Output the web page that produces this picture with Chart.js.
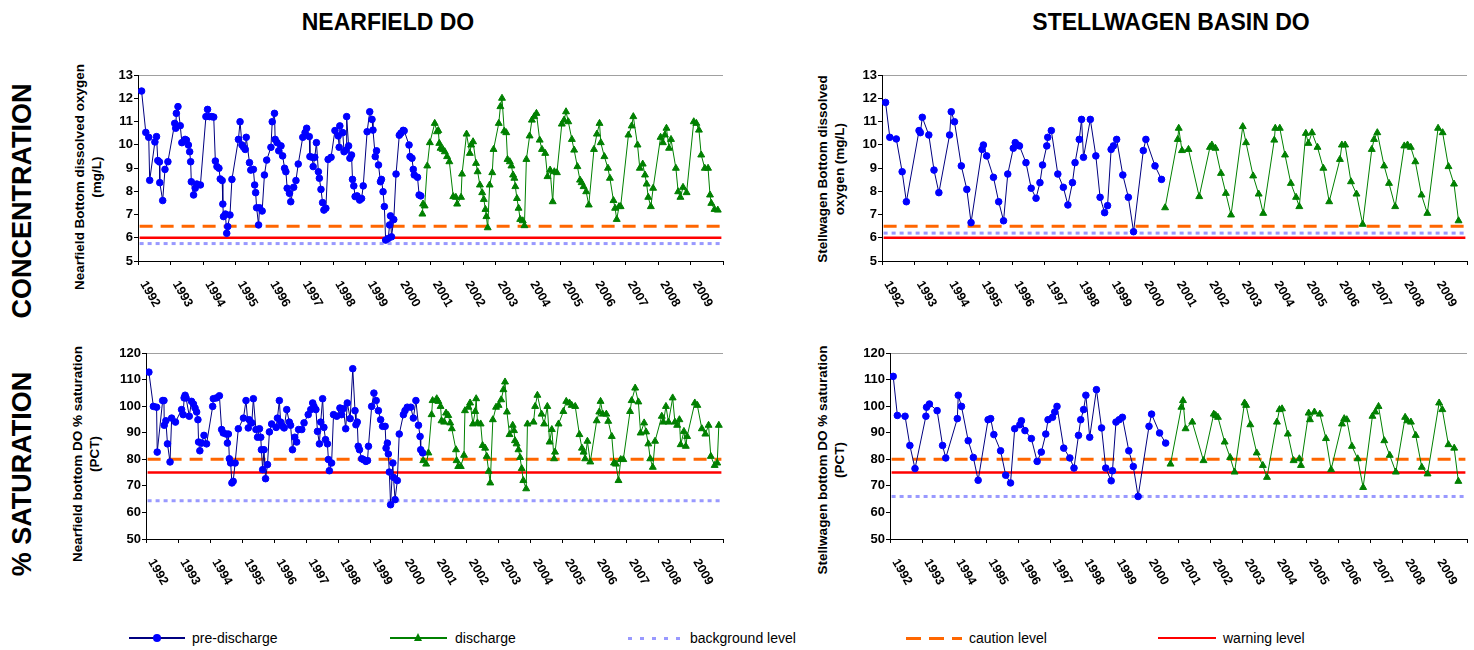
<!DOCTYPE HTML>
<html>

<head>
    <meta charset="utf-8">
    <script src="https://cdn.jsdelivr.net/npm/chart.js@4.4.1/dist/chart.umd.min.js"></script>
    <style>
        html, body {
            margin: 0;
            padding: 0;
            background: #fff;
            font-family: "Liberation Sans", Arial, sans-serif;
        }

        #page {
            position: relative;
            width: 1474px;
            height: 650px;
            overflow: hidden;
        }

        canvas {
            position: absolute;
        }

        .title {
            position: absolute;
            font-weight: bold;
            font-size: 23px;
            transform: translate(-50%, -50%);
            white-space: nowrap;
        }

        .side {
            position: absolute;
            font-weight: bold;
            font-size: 27px;
            transform: translate(-50%, -50%) rotate(-90deg);
            white-space: nowrap;
        }

        .ytitle {
            position: absolute;
            font-weight: bold;
            font-size: 13.5px;
            line-height: 17px;
            text-align: center;
            transform: translate(-50%, -50%) rotate(-90deg);
            white-space: nowrap;
        }

        .lg {
            position: absolute;
            top: 638px;
        }

        .lgline {
            position: absolute;
            height: 3px;
            margin-top: -1.5px;
        }

        .lgtext {
            position: absolute;
            font-size: 14px;
            transform: translateY(-50%);
            white-space: nowrap;
        }
    </style>
</head>

<body>
    <div id="page">
        <div class="title" style="left:388px;top:22px;">NEARFIELD DO</div>
        <div class="title" style="left:1171px;top:22px;">STELLWAGEN BASIN DO</div>
        <div class="side" style="left:22px;top:201px;">CONCENTRATION</div>
        <div class="side" style="left:22px;top:474px;">% SATURATION</div>

        <div class="ytitle" style="left:88px;top:177px;">Nearfield Bottom dissolved oxygen<br>(mg/L)</div>
        <div class="ytitle" style="left:831px;top:169px;">Stellwagen Bottom dissolved<br>oxygen (mg/L)</div>
        <div class="ytitle" style="left:86px;top:454px;">Nearfield bottom DO % saturation<br>(PCT)</div>
        <div class="ytitle" style="left:831px;top:460px;">Stellwagen bottom DO % saturation<br>(PCT)</div>

        <canvas id="nfConc" width="630" height="250" style="left:100px;top:65px;"></canvas>
        <canvas id="swConc" width="632" height="250" style="left:840px;top:65px;"></canvas>
        <canvas id="nfSat" width="630" height="250" style="left:100px;top:343px;"></canvas>
        <canvas id="swSat" width="632" height="250" style="left:840px;top:343px;"></canvas>

        <!-- legend -->
        <div class="lg">
            <div class="lgline" style="left:129px;width:56px;background:#000080;height:2px;margin-top:-1px;"></div>
            <div style="position:absolute;left:153px;top:-4px;width:8px;height:8px;border-radius:50%;background:#0000FF;"></div>
            <div class="lgtext" style="left:192px;">pre-discharge</div>

            <div class="lgline" style="left:390px;width:57px;background:#008000;height:2px;margin-top:-1px;"></div>
            <div style="position:absolute;left:414px;top:-5px;width:0;height:0;border-left:4px solid transparent;border-right:4px solid transparent;border-bottom:8px solid #008000;"></div>
            <div class="lgtext" style="left:455px;">discharge</div>

            <div class="lgline" style="left:628px;width:57px;background:repeating-linear-gradient(to right,#9999FF 0 4px,transparent 4px 12px);"></div>
            <div class="lgtext" style="left:690px;">background level</div>

            <div class="lgline" style="left:906px;width:56px;background:repeating-linear-gradient(to right,#FF6600 0 15px,transparent 15px 23px);"></div>
            <div class="lgtext" style="left:969px;">caution level</div>

            <div class="lgline" style="left:1158px;width:58px;background:#FF0000;height:2px;margin-top:-1px;"></div>
            <div class="lgtext" style="left:1223px;">warning level</div>
        </div>
    </div>
</body>
<script>
    // x axis labels
    var yearLabels = ['1992', '1993', '1994', '1995', '1996', '1997', '1998', '1999', '2000',
        '2001', '2002', '2003', '2004', '2005', '2006', '2007', '2008', '2009'];

    // threshold lines run across the whole record
    var levelSpan = [1992.05, 2009.95];

    // ---- Nearfield concentration (mg/L) ----
    var nfConcPreYear = [1992.11, 1992.24, 1992.33, 1992.36, 1992.52, 1992.57, 1992.61, 1992.66, 1992.67, 1992.76, 1992.83, 1992.92,
        1993.13, 1993.16, 1993.18, 1993.23, 1993.30, 1993.35, 1993.45, 1993.49, 1993.55, 1993.59, 1993.62, 1993.64, 1993.71, 1993.76, 1993.81, 1993.92,
        1994.09, 1994.14, 1994.20, 1994.27, 1994.33, 1994.38, 1994.43, 1994.49, 1994.53, 1994.59, 1994.61, 1994.63, 1994.69, 1994.73, 1994.76, 1994.83, 1994.89,
        1995.09, 1995.14, 1995.20, 1995.25, 1995.30, 1995.33, 1995.43, 1995.47, 1995.55, 1995.59, 1995.62, 1995.65, 1995.71, 1995.74, 1995.82, 1995.89, 1995.96,
        1996.09, 1996.13, 1996.20, 1996.22, 1996.28, 1996.33, 1996.40, 1996.45, 1996.51, 1996.55, 1996.59, 1996.66, 1996.70, 1996.79, 1996.86, 1996.93,
        1997.07, 1997.14, 1997.19, 1997.27, 1997.29, 1997.36, 1997.39, 1997.44, 1997.49, 1997.55, 1997.58, 1997.63, 1997.68, 1997.72, 1997.78, 1997.85, 1997.94,
        1998.06, 1998.16, 1998.19, 1998.21, 1998.30, 1998.34, 1998.40, 1998.42, 1998.48, 1998.52, 1998.57, 1998.60, 1998.64, 1998.68, 1998.74, 1998.82, 1998.88, 1998.93,
        1999.05, 1999.13, 1999.20, 1999.23, 1999.30, 1999.34, 1999.40, 1999.46, 1999.49, 1999.54, 1999.58, 1999.62, 1999.70, 1999.74, 1999.77, 1999.80, 1999.87, 1999.94,
        2000.04, 2000.09, 2000.16, 2000.19, 2000.34, 2000.37, 2000.43, 2000.47, 2000.50, 2000.60, 2000.65, 2000.70];
    var nfConcPreVal = [12.31, 10.53, 10.32, 8.47, 10.12, 10.35, 9.32, 9.26, 8.37, 7.6, 8.94, 9.27,
        10.92, 10.71, 11.35, 11.64, 10.82, 10.09, 10.23, 10.2, 9.99, 9.7, 9.27, 8.41, 7.84, 8.13, 8.31, 8.27,
        11.21, 11.52, 11.21, 11.21, 11.19, 9.3, 9.06, 8.99, 8.53, 8.46, 7.45, 6.91, 7.02, 6.19, 6.48, 6.98, 8.51,
        10.23, 10.99, 9.99, 9.89, 9.8, 10.32, 9.23, 8.91, 8.94, 8.27, 7.94, 7.29, 6.55, 7.29, 7.15, 8.7, 9.34,
        9.89, 10.99, 11.35, 10.23, 10.09, 9.74, 9.95, 9.52, 8.99, 8.84, 8.13, 7.91, 7.55, 8.17, 8.46, 9.17,
        10.32, 10.52, 10.71, 10.35, 9.49, 9.46, 9.06, 9.46, 10.09, 8.84, 8.56, 8.08, 7.51, 7.19, 7.27, 9.37, 9.46,
        10.61, 10.38, 9.89, 10.81, 10.52, 9.7, 9.77, 11.21, 9.95, 9.42, 9.56, 8.51, 8.23, 7.77, 7.8, 7.62, 7.69, 8.23,
        10.56, 11.42, 11.09, 10.63, 9.49, 9.74, 9.13, 8.41, 8.51, 7.98, 7.34, 5.9, 5.97, 6.55, 6.94, 6.04, 6.78, 8.74,
        10.41, 10.5, 10.62, 10.6, 9.99, 9.49, 9.42, 8.94, 8.7, 8.6, 7.84, 7.8];
    var nfConcDisYear = [2000.75, 2000.77, 2000.82, 2000.90, 2000.98,
        2001.13, 2001.20, 2001.24, 2001.27, 2001.31, 2001.38, 2001.44, 2001.51, 2001.58, 2001.70, 2001.78, 2001.82, 2001.94, 2001.97,
        2002.11, 2002.21, 2002.25, 2002.31, 2002.40, 2002.45, 2002.52, 2002.59, 2002.64, 2002.69, 2002.72, 2002.76, 2002.82, 2002.90, 2002.94,
        2003.10, 2003.15, 2003.20, 2003.27, 2003.33, 2003.37, 2003.44, 2003.49, 2003.54, 2003.58, 2003.61, 2003.66, 2003.71, 2003.76, 2003.84, 2003.89, 2003.95,
        2004.05, 2004.12, 2004.19, 2004.26, 2004.36, 2004.43, 2004.53, 2004.60, 2004.68, 2004.76, 2004.81, 2004.89,
        2005.04, 2005.11, 2005.17, 2005.24, 2005.35, 2005.42, 2005.52, 2005.60, 2005.65, 2005.71, 2005.79, 2005.87,
        2006.03, 2006.12, 2006.20, 2006.24, 2006.35, 2006.46, 2006.52, 2006.63, 2006.68, 2006.73, 2006.80, 2006.85,
        2007.09, 2007.19, 2007.24, 2007.37, 2007.44, 2007.53, 2007.60, 2007.65, 2007.70, 2007.78, 2007.85,
        2008.08, 2008.15, 2008.21, 2008.26, 2008.34, 2008.40, 2008.55, 2008.62, 2008.69, 2008.77, 2008.88,
        2009.10, 2009.18, 2009.26, 2009.33, 2009.44, 2009.54, 2009.60, 2009.64, 2009.74, 2009.84];
    var nfConcDisVal = [7.02, 7.45, 7.37, 9.09, 10.09,
        10.92, 10.56, 10.61, 10.06, 9.85, 9.8, 9.7, 9.49, 9.27, 7.77, 7.74, 7.45, 7.74, 8.74,
        10.46, 9.63, 9.99, 10.13, 9.2, 8.84, 8.27, 7.94, 7.65, 7.22, 6.91, 6.43, 8.27, 8.8, 9.8,
        10.92, 11.64, 12.0, 10.59, 10.52, 9.37, 9.27, 9.09, 8.7, 8.56, 8.2, 7.69, 7.27, 6.79, 6.73, 6.52, 9.37,
        10.38, 11.06, 11.21, 11.35, 10.2, 9.8, 9.63, 8.63, 8.91, 7.55, 8.84, 8.8,
        10.89, 11.06, 11.42, 10.99, 10.23, 9.77, 9.06, 8.48, 8.37, 8.2, 7.98, 7.41,
        9.8, 10.46, 10.92, 10.09, 9.49, 8.99, 8.56, 7.6, 7.27, 6.79, 7.34, 7.34,
        10.42, 10.81, 11.21, 9.99, 8.99, 9.17, 8.7, 8.31, 7.74, 7.34, 8.13,
        10.32, 10.09, 10.42, 10.71, 9.85, 10.23, 8.99, 7.98, 7.74, 8.17, 7.94,
        10.99, 10.92, 10.63, 9.56, 8.99, 8.99, 7.84, 7.48, 7.22, 7.19];
    var nfConcLevels = [5.75, 6.5, 6.0]; // background, caution, warning

    // ---- Stellwagen concentration (mg/L) ----
    var swConcPreYear = [1992.11, 1992.24, 1992.44, 1992.62, 1992.75, 1993.14, 1993.18, 1993.24, 1993.44, 1993.60, 1993.75,
        1994.08, 1994.13, 1994.23, 1994.44, 1994.61, 1994.74, 1995.08, 1995.12, 1995.22, 1995.43, 1995.59, 1995.74, 1995.87,
        1996.04, 1996.10, 1996.17, 1996.23, 1996.43, 1996.59, 1996.74, 1996.86, 1996.94, 1997.07, 1997.10, 1997.21, 1997.41, 1997.58, 1997.72, 1997.86, 1997.94,
        1998.07, 1998.14, 1998.20, 1998.41, 1998.58, 1998.71, 1998.85, 1998.94, 1999.05, 1999.12, 1999.22, 1999.41, 1999.58, 1999.74,
        2000.04, 2000.12, 2000.40, 2000.60];
    var swConcPreVal = [11.82, 10.32, 10.25, 8.84, 7.55, 10.61, 10.52, 11.18, 10.42, 8.91, 7.94,
        10.42, 11.42, 10.99, 9.09, 8.08, 6.65, 9.8, 9.99, 9.52, 8.6, 7.55, 6.73, 8.74,
        9.85, 10.09, 9.99, 9.95, 9.23, 8.13, 7.7, 8.37, 9.13, 9.95, 10.32, 10.61, 8.74, 8.17, 7.41, 8.37, 9.23,
        10.23, 11.09, 9.46, 11.09, 9.52, 7.74, 7.08, 7.38, 9.8, 9.95, 10.23, 8.7, 7.74, 6.26,
        9.75, 10.23, 9.09, 8.51];
    var swConcDisYear = [2000.71, 2001.10, 2001.13, 2001.23, 2001.43, 2001.76, 2002.09, 2002.15, 2002.26, 2002.43, 2002.58, 2002.74,
        2003.10, 2003.20, 2003.42, 2003.59, 2003.73, 2004.07, 2004.10, 2004.24, 2004.40, 2004.58, 2004.74, 2004.84,
        2005.04, 2005.12, 2005.23, 2005.40, 2005.58, 2005.76, 2006.09, 2006.15, 2006.25, 2006.43, 2006.60, 2006.79,
        2007.07, 2007.14, 2007.24, 2007.45, 2007.60, 2007.79, 2008.07, 2008.17, 2008.27, 2008.41, 2008.60, 2008.78,
        2009.11, 2009.25, 2009.43, 2009.60, 2009.74];
    var swConcDisVal = [7.29, 10.23, 10.71, 9.75, 9.8, 7.77, 9.89, 9.99, 9.85, 8.77, 7.91, 6.98,
        10.78, 10.09, 8.66, 7.88, 7.05, 10.2, 10.71, 10.71, 9.56, 8.34, 7.74, 7.34,
        10.49, 10.06, 10.52, 9.89, 8.99, 7.55, 9.37, 9.99, 9.99, 8.41, 7.88, 6.58,
        9.8, 10.23, 10.52, 9.09, 8.34, 7.34, 9.95, 9.99, 9.89, 9.27, 7.84, 7.05,
        10.71, 10.52, 9.06, 8.31, 6.73];
    var swConcLevels = [6.2, 6.5, 6.0];

    // ---- Nearfield % saturation ----
    var nfSatPreYear = [1992.09, 1992.23, 1992.33, 1992.35, 1992.52, 1992.56, 1992.57, 1992.62, 1992.67, 1992.75, 1992.80, 1992.92,
        1993.11, 1993.16, 1993.19, 1993.22, 1993.25, 1993.35, 1993.42, 1993.48, 1993.53, 1993.58, 1993.62, 1993.64, 1993.68, 1993.74, 1993.81, 1993.89,
        1994.08, 1994.10, 1994.20, 1994.29, 1994.36, 1994.41, 1994.50, 1994.54, 1994.57, 1994.60, 1994.64, 1994.68, 1994.72, 1994.78, 1994.88,
        1995.04, 1995.12, 1995.19, 1995.22, 1995.30, 1995.35, 1995.43, 1995.48, 1995.54, 1995.58, 1995.60, 1995.64, 1995.68, 1995.73, 1995.79, 1995.85, 1995.92,
        1996.06, 1996.10, 1996.16, 1996.20, 1996.26, 1996.31, 1996.39, 1996.47, 1996.51, 1996.57, 1996.64, 1996.70, 1996.76, 1996.86, 1996.93,
        1997.06, 1997.14, 1997.20, 1997.24, 1997.30, 1997.35, 1997.41, 1997.45, 1997.51, 1997.55, 1997.60, 1997.66, 1997.69, 1997.72, 1997.79, 1997.85, 1997.95,
        1998.05, 1998.10, 1998.16, 1998.23, 1998.28, 1998.37, 1998.45, 1998.52, 1998.55, 1998.59, 1998.62, 1998.66, 1998.73, 1998.78, 1998.86, 1998.91, 1998.94,
        1999.04, 1999.11, 1999.18, 1999.25, 1999.32, 1999.38, 1999.46, 1999.49, 1999.53, 1999.56, 1999.59, 1999.63, 1999.70, 1999.72, 1999.77, 1999.84, 1999.90,
        2000.03, 2000.08, 2000.15, 2000.26, 2000.34, 2000.42, 2000.50, 2000.55, 2000.57, 2000.63];
    var nfSatPreVal = [112.8, 99.9, 99.6, 82.7, 102.1, 102.1, 92.8, 94.5, 85.8, 79.0, 95.5, 94.0,
        98.7, 96.8, 103.1, 104.1, 103.1, 96.2, 101.8, 100.8, 99.3, 97.8, 94.9, 86.5, 83.2, 86.1, 89.0, 85.8,
        99.9, 102.8, 103.1, 103.9, 91.2, 89.9, 89.5, 86.1, 89.5, 80.2, 78.6, 71.1, 71.7, 78.6, 91.5,
        95.5, 102.1, 91.8, 94.9, 93.7, 102.8, 91.2, 88.3, 91.5, 88.3, 83.6, 76.1, 83.6, 72.7, 78.0, 90.3, 93.3,
        92.0, 95.5, 102.1, 94.0, 92.4, 91.8, 98.7, 94.0, 92.8, 83.6, 88.3, 86.5, 91.2, 91.2, 93.7,
        96.8, 98.7, 101.2, 99.9, 98.7, 90.5, 85.8, 94.0, 102.8, 92.0, 87.4, 85.8, 79.9, 75.7, 78.6, 96.8, 96.2,
        99.3, 96.8, 99.1, 91.5, 101.2, 95.3, 114.1, 98.3, 93.0, 94.0, 84.9, 83.6, 80.2, 79.9, 79.2, 79.5, 84.9,
        99.9, 104.9, 102.1, 98.3, 94.9, 92.4, 92.4, 84.2, 86.1, 82.0, 75.2, 62.9, 78.6, 73.2, 64.8, 72.0, 89.5,
        96.8, 98.3, 99.6, 99.6, 95.5, 102.1, 92.8, 88.6, 83.6, 82.4];
    var nfSatDisYear = [2000.65, 2000.74, 2000.81, 2000.91, 2000.94,
        2001.07, 2001.12, 2001.19, 2001.22, 2001.30, 2001.36, 2001.43, 2001.49, 2001.54, 2001.67, 2001.69, 2001.74, 2001.82, 2001.92, 2001.95,
        2002.06, 2002.11, 2002.20, 2002.27, 2002.30, 2002.34, 2002.44, 2002.50, 2002.58, 2002.63, 2002.69, 2002.74, 2002.82, 2002.92,
        2003.00, 2003.08, 2003.15, 2003.20, 2003.26, 2003.34, 2003.44, 2003.48, 2003.51, 2003.56, 2003.62, 2003.67, 2003.72, 2003.77, 2003.86, 2003.90,
        2004.09, 2004.14, 2004.21, 2004.34, 2004.42, 2004.52, 2004.59, 2004.66, 2004.73, 2004.76, 2004.87,
        2005.02, 2005.11, 2005.21, 2005.28, 2005.39, 2005.52, 2005.60, 2005.65, 2005.70, 2005.77, 2005.86,
        2006.06, 2006.14, 2006.18, 2006.25, 2006.36, 2006.42, 2006.53, 2006.60, 2006.66, 2006.74, 2006.81, 2006.89,
        2007.10, 2007.15, 2007.26, 2007.36, 2007.43, 2007.54, 2007.60, 2007.67, 2007.73, 2007.81, 2007.88,
        2008.09, 2008.14, 2008.22, 2008.30, 2008.43, 2008.50, 2008.57, 2008.64, 2008.68, 2008.78, 2008.84, 2008.88,
        2009.12, 2009.20, 2009.34, 2009.45, 2009.55, 2009.62, 2009.74, 2009.82, 2009.87];
    var nfSatDisVal = [79.5, 78.2, 82.4, 96.8, 102.1,
        102.8, 101.8, 99.9, 94.5, 94.0, 97.4, 96.5, 93.7, 91.5, 83.6, 79.5, 77.3, 77.3, 81.5, 98.3,
        99.6, 101.2, 93.3, 98.0, 102.8, 93.7, 93.3, 85.2, 84.2, 81.1, 75.5, 71.1, 94.9, 99.6,
        100.3, 102.4, 106.2, 109.1, 97.8, 89.3, 92.8, 90.8, 87.0, 85.8, 83.6, 80.7, 76.5, 72.0, 68.9, 93.3,
        94.0, 99.9, 104.1, 97.0, 93.3, 99.9, 86.5, 91.2, 80.2, 82.7, 93.3,
        98.0, 101.8, 101.2, 100.3, 99.9, 89.3, 84.2, 82.7, 80.2, 86.8, 79.0,
        94.5, 97.8, 101.8, 97.0, 97.0, 94.3, 88.6, 78.6, 78.2, 72.0, 79.9, 79.9,
        98.0, 102.1, 106.8, 101.6, 89.9, 93.7, 90.3, 85.8, 80.2, 77.0, 86.8,
        96.2, 94.0, 99.9, 94.0, 103.1, 94.0, 92.8, 94.9, 85.5, 90.5, 84.9, 88.6,
        101.2, 100.3, 91.5, 89.5, 92.8, 81.1, 77.7, 78.6, 92.8];
    var nfSatLevels = [64.4, 80, 75];

    // ---- Stellwagen % saturation ----
    var swSatPreYear = [1992.10, 1992.23, 1992.47, 1992.62, 1992.78, 1993.12, 1993.14, 1993.23, 1993.47, 1993.64, 1993.74,
        1994.10, 1994.13, 1994.23, 1994.44, 1994.60, 1994.75, 1995.06, 1995.14, 1995.24, 1995.45, 1995.61, 1995.76, 1995.89,
        1996.05, 1996.10, 1996.21, 1996.41, 1996.59, 1996.72, 1996.86, 1996.93, 1997.07, 1997.14, 1997.21, 1997.42, 1997.61, 1997.74, 1997.88, 1997.95,
        1998.04, 1998.11, 1998.23, 1998.44, 1998.60, 1998.73, 1998.90, 1998.94, 1999.05, 1999.15, 1999.25, 1999.45, 1999.59, 1999.74,
        2000.08, 2000.16, 2000.41, 2000.60];
    var swSatPreVal = [111.2, 96.5, 96.2, 85.2, 76.5, 96.2, 99.6, 100.8, 98.3, 85.2, 80.5,
        95.3, 104.1, 99.9, 87.0, 80.7, 72.1, 94.9, 95.3, 89.3, 83.2, 74.0, 71.1, 91.5,
        93.0, 94.5, 90.8, 87.8, 79.2, 82.7, 89.5, 94.9, 95.8, 97.8, 99.9, 84.2, 80.5, 76.7, 89.0, 94.9,
        98.7, 104.1, 88.3, 106.2, 91.8, 76.7, 71.9, 75.7, 94.0, 94.9, 95.8, 83.2, 77.3, 66.0,
        92.4, 97.0, 89.9, 86.1];
    var swSatDisYear = [2000.75, 2001.09, 2001.14, 2001.22, 2001.43, 2001.78, 2002.10, 2002.16, 2002.23, 2002.44, 2002.61, 2002.75,
        2003.06, 2003.11, 2003.24, 2003.44, 2003.63, 2003.76, 2004.07, 2004.15, 2004.23, 2004.41, 2004.59, 2004.77, 2004.82,
        2005.06, 2005.10, 2005.24, 2005.41, 2005.60, 2005.76, 2006.10, 2006.17, 2006.25, 2006.41, 2006.59, 2006.76,
        2007.05, 2007.14, 2007.24, 2007.42, 2007.59, 2007.78, 2008.07, 2008.14, 2008.25, 2008.40, 2008.59, 2008.77,
        2009.13, 2009.23, 2009.42, 2009.60, 2009.73];
    var swSatDisVal = [78.2, 99.6, 102.1, 91.5, 94.0, 79.5, 97.0, 96.5, 95.8, 86.5, 80.7, 75.2,
        101.2, 100.3, 93.0, 82.4, 77.7, 73.2, 94.0, 98.7, 99.0, 89.5, 79.5, 80.2, 77.7,
        97.4, 94.9, 97.8, 97.0, 87.8, 76.1, 93.3, 95.3, 94.9, 84.9, 80.2, 69.4,
        96.2, 97.8, 99.9, 87.0, 81.5, 75.2, 95.8, 94.5, 94.0, 89.0, 77.0, 74.5,
        101.2, 98.7, 85.5, 84.2, 71.7];
    var swSatLevels = [66, 80, 75];

    var FONT = '"Liberation Sans", Arial, sans-serif';

    function pts(xs, ys) {
        return xs.map(function (x, i) { return { x: x, y: ys[i] }; });
    }

    // rotated year labels under the x axis (Excel style, reading downward)
    var yearLabelPlugin = {
        id: 'yearLabels',
        afterDraw: function (chart) {
            var sx = chart.scales.x;
            var ctx = chart.ctx;
            ctx.save();
            ctx.font = 'bold 12.5px ' + FONT;
            ctx.fillStyle = '#000';
            ctx.textAlign = 'left';
            ctx.textBaseline = 'middle';
            yearLabels.forEach(function (lbl) {
                var px = sx.getPixelForValue(Number(lbl));
                ctx.save();
                ctx.translate(px + 5, sx.bottom + 17);
                ctx.rotate(Math.PI / 3);
                ctx.fillText(lbl, 0, 0);
                ctx.restore();
            });
            ctx.restore();
        }
    };

    function makeChart(id, o) {
        return new Chart(id, {
            type: 'line',
            data: {
                datasets: [{
                    label: 'pre-discharge',
                    data: pts(o.preX, o.preY),
                    borderColor: '#000080',
                    borderWidth: 1,
                    pointStyle: 'circle',
                    pointRadius: 3.3,
                    pointBackgroundColor: '#0000FF',
                    pointBorderColor: '#0000FF',
                    pointBorderWidth: 1
                }, {
                    label: 'discharge',
                    data: pts(o.disX, o.disY),
                    borderColor: '#008000',
                    borderWidth: 1,
                    pointStyle: 'triangle',
                    pointRadius: 4,
                    pointBackgroundColor: '#008000',
                    pointBorderColor: '#008000',
                    pointBorderWidth: 1
                }, {
                    label: 'warning level',
                    data: pts(levelSpan, [o.levels[2], o.levels[2]]),
                    borderColor: '#FF0000',
                    borderWidth: 2.5,
                    pointRadius: 0
                }, {
                    label: 'caution level',
                    data: pts(levelSpan, [o.levels[1], o.levels[1]]),
                    borderColor: '#FF6600',
                    borderWidth: 3,
                    borderDash: [13, 8],
                    pointRadius: 0
                }, {
                    label: 'background level',
                    data: pts(levelSpan, [o.levels[0], o.levels[0]]),
                    borderColor: '#9999FF',
                    borderWidth: 3,
                    borderDash: [4, 4],
                    pointRadius: 0
                }]
            },
            options: {
                responsive: false,
                animation: false,
                devicePixelRatio: 1,
                layout: { padding: { top: 10, right: o.padRight, bottom: 50, left: 0 } },
                plugins: { legend: { display: false }, tooltip: { enabled: false } },
                scales: {
                    x: {
                        type: 'linear',
                        min: 1992,
                        max: 2010,
                        ticks: { stepSize: 1, display: false },
                        grid: { drawOnChartArea: false, tickColor: '#000', tickLength: 4 },
                        border: { color: '#000', width: 1 }
                    },
                    y: {
                        min: o.min,
                        max: o.max,
                        ticks: {
                            stepSize: o.step,
                            color: '#000',
                            padding: 1,
                            font: { family: FONT, size: 13, weight: 'bold' }
                        },
                        grid: {
                            color: function (c) {
                                return c.tick && c.tick.value === o.max ? '#a0a0a0' : 'rgba(0,0,0,0)';
                            },
                            tickColor: '#000',
                            tickLength: 4
                        },
                        border: { color: '#000', width: 1 },
                        afterFit: function (s) { s.width = o.yWidth; }
                    }
                }
            },
            plugins: [yearLabelPlugin]
        });
    }

    makeChart('nfConc', {
        preX: nfConcPreYear, preY: nfConcPreVal, disX: nfConcDisYear, disY: nfConcDisVal,
        levels: nfConcLevels, min: 5, max: 13, step: 1, yWidth: 38, padRight: 7
    });
    makeChart('swConc', {
        preX: swConcPreYear, preY: swConcPreVal, disX: swConcDisYear, disY: swConcDisVal,
        levels: swConcLevels, min: 5, max: 13, step: 1, yWidth: 42, padRight: 4
    });
    makeChart('nfSat', {
        preX: nfSatPreYear, preY: nfSatPreVal, disX: nfSatDisYear, disY: nfSatDisVal,
        levels: nfSatLevels, min: 50, max: 120, step: 10, yWidth: 46, padRight: 7
    });
    makeChart('swSat', {
        preX: swSatPreYear, preY: swSatPreVal, disX: swSatDisYear, disY: swSatDisVal,
        levels: swSatLevels, min: 50, max: 120, step: 10, yWidth: 50, padRight: 4
    });
</script>

</html>
